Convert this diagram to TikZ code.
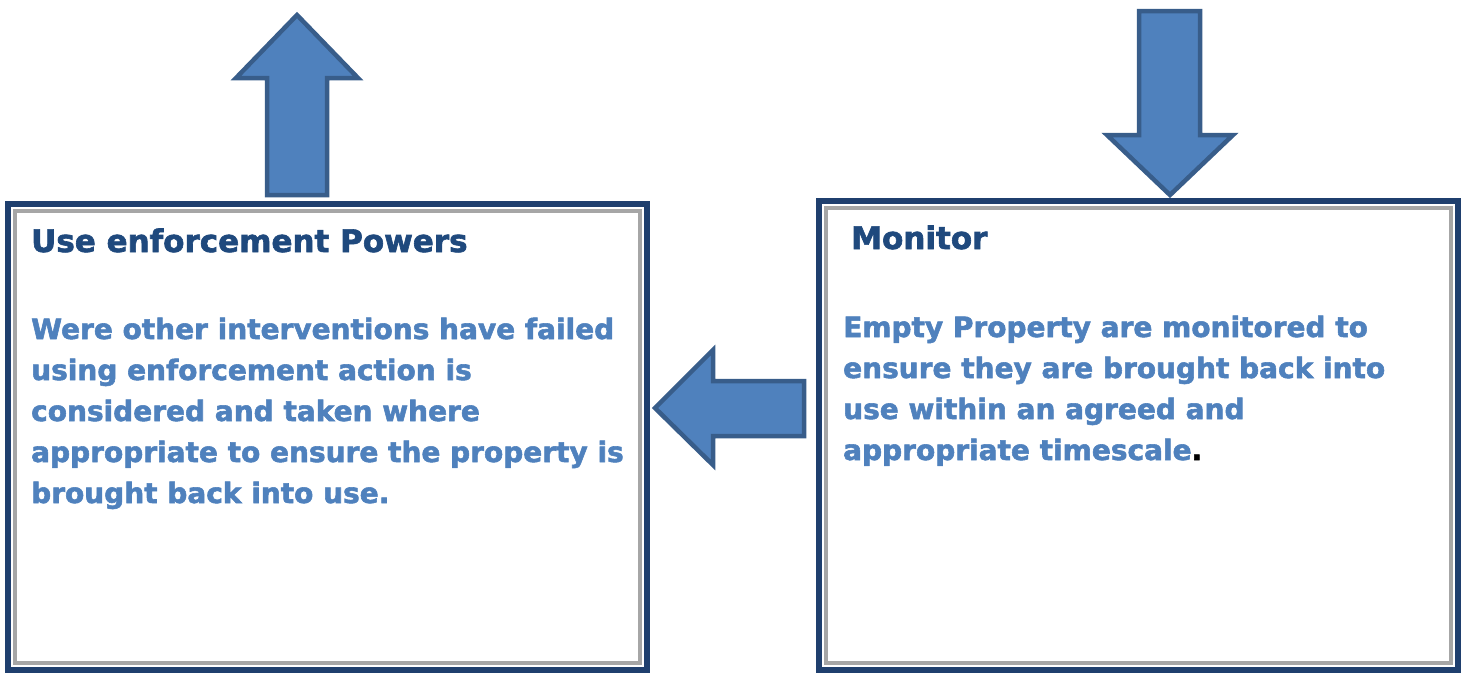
\documentclass[tikz,border=0pt]{standalone}
\usepackage{fontspec}
\setmainfont{DejaVu Sans}
\newfontfamily\heavyfont{DejaVu Sans Bold}[FakeBold=2]
\definecolor{ttl}{HTML}{1F497D}
\definecolor{bdy}{HTML}{4F81BD}
\definecolor{frm}{HTML}{1F3F6E}
\definecolor{bevel}{HTML}{A6A6A6}
\definecolor{afill}{HTML}{4F81BD}
\definecolor{aline}{HTML}{385D8A}
\begin{document}
\begin{tikzpicture}[x=1pt,y=-1pt,
  frame/.style={draw=frm,line width=6pt},
  innerframe/.style={draw=bevel,line width=3.5pt},
  blockarrow/.style={fill=afill,draw=aline,line width=4.5pt,line join=miter},
  ttltext/.style={anchor=base west,inner sep=0pt,text=ttl,font=\fontsize{31}{36}\heavyfont},
  bodytext/.style={anchor=base west,inner sep=0pt,text=bdy,align=left,font=\fontsize{28}{41}\heavyfont}]
\useasboundingbox (0,0) rectangle (1467,675);
% boxes
\draw[frame] (8,204) rectangle (647,670);
\draw[innerframe] (15,211) rectangle (640,663);
\draw[frame] (819,201) rectangle (1458,670);
\draw[innerframe] (826,208) rectangle (1451,663);
\node[draw=none,minimum width=639pt,minimum height=466pt,anchor=north west,inner sep=0pt] (left) at (8,204) {};
\node[draw=none,minimum width=639pt,minimum height=469pt,anchor=north west,inner sep=0pt] (right) at (819,201) {};
% arrows
\draw[blockarrow] (267,195) -- (267,78) -- (236,78) -- (297,15) -- (358,78) -- (327,78) -- (327,195) -- cycle;
\draw[blockarrow] (1139,11) -- (1139,135) -- (1107,135) -- (1170,195) -- (1233,135) -- (1200,135) -- (1200,11) -- cycle;
\draw[blockarrow] (804,381) -- (713,381) -- (713,350) -- (655,408) -- (713,465) -- (713,436) -- (804,436) -- cycle;
% texts
\node[ttltext] (t1) at (31,252) {Use enforcement Powers};
\node[bodytext] (b1) at (31,503) {Were other interventions have failed\\using enforcement action is\\considered and taken where\\appropriate to ensure the property is\\brought back into use.};
\node[ttltext] (t2) at (851,249) {Monitor};
\node[bodytext] (b2) at (843,460) {Empty Property are monitored to\\ensure they are brought back into\\use within an agreed and\\appropriate timescale\textcolor{black}{.}};
\end{tikzpicture}
\end{document}
